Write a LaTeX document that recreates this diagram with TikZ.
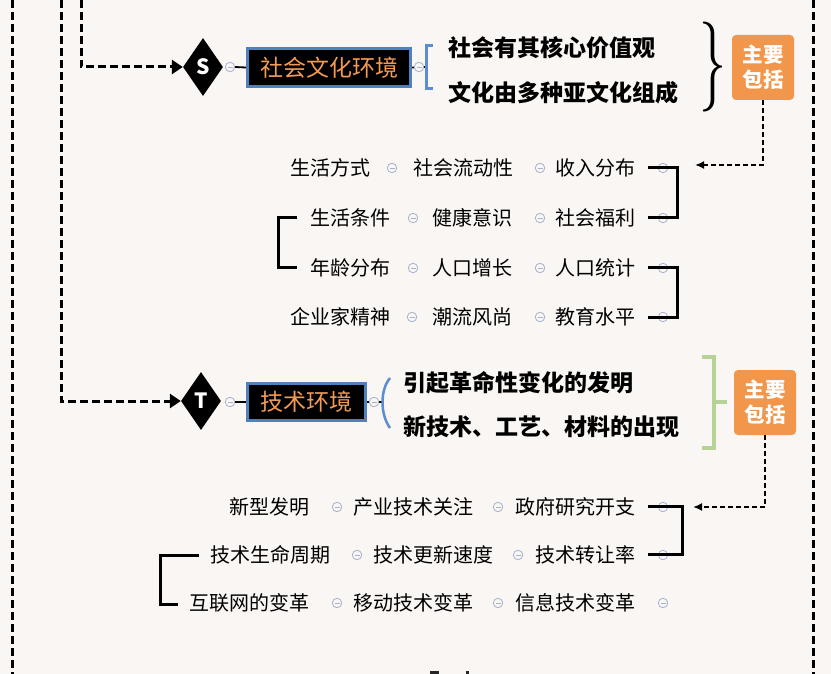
\documentclass[tikz,border=0pt]{standalone}
\usepackage{fontspec}
\setmainfont{Noto Sans CJK SC}
\usetikzlibrary{arrows.meta,shapes.geometric}
\definecolor{bg}{RGB}{250,246,243}
\definecolor{orng}{RGB}{241,150,74}
\definecolor{txtor}{RGB}{243,155,85}
\definecolor{bluebd}{RGB}{79,129,189}
\definecolor{brblue}{RGB}{91,142,208}
\definecolor{grn}{RGB}{183,210,150}
\definecolor{minc}{RGB}{165,178,208}
\begin{document}
\begin{tikzpicture}[x=1pt,y=-1pt,
  item/.style={font=\fontsize{20}{20}\selectfont, inner sep=0pt, text height=17.6pt, text depth=2.4pt, anchor=east, text=black},
  bolditem/.style={font=\fontsize{23}{23}\selectfont\bfseries, inner sep=0pt, text height=20.2pt, text depth=2.8pt, anchor=west, text=black},
  mi/.style={circle, draw=minc, fill=bg, line width=0.8pt, minimum size=9.5pt, inner sep=0pt,
    path picture={\draw[minc,line width=0.8pt] ([xshift=-2.5pt]path picture bounding box.center) -- ([xshift=2.5pt]path picture bounding box.center);}},
  dia/.style={diamond, fill=black, text=white, inner sep=0pt, aspect=0.69, minimum width=40pt, minimum height=58pt, font=\fontsize{21}{21}\selectfont\bfseries},
  envbox/.style={fill=black, draw=bluebd, line width=3pt, text=txtor, inner sep=0pt, text height=20.2pt, text depth=2.8pt, font=\fontsize{23}{23}\selectfont},
  incl/.style={fill=orng, rounded corners=4pt, text=white, align=center, inner sep=0pt, minimum width=62pt, minimum height=65pt, font=\fontsize{20.5}{25}\selectfont\bfseries},
  bigdash/.style={line width=3pt, dash pattern=on 8pt off 4pt},
  smalldash/.style={line width=1.8pt, dash pattern=on 5pt off 3pt},
  brk/.style={line width=3pt, line cap=butt},
  link/.style={line width=1.8pt}
]
\useasboundingbox (0,0) rectangle (831,674);
\fill[bg] (0,0) rectangle (831,674);

% ---- frame dashed lines
\coordinate (L0top) at (12,0);  \coordinate (L0bot) at (12,674);
\coordinate (R0top) at (813,0); \coordinate (R0bot) at (813,674);
\coordinate (LTtop) at (61,0);
\coordinate (LStop) at (81,0);
\draw[bigdash] (L0top) -- (L0bot);
\draw[bigdash] (R0top) -- (R0bot);

% ---- S section
\node[dia] (dS) at (203,67) {S};
\node[envbox, minimum width=163pt, minimum height=38pt] (bS) at (329,67.5) {社会文化环境};
\draw[bigdash, -{Triangle[length=11pt,width=14pt]}] (LStop) |- (dS.west);
\node[mi] (mS0) at (230,67) {};
\draw[link] (mS0.east) -- (bS.west);
\coordinate (brS) at (426,67);
\draw[link] (bS.east) -- (brS);
\node[mi] (mS1) at (419,67) {};
\draw[brblue, line width=3pt] (433,46) -- (426,46) -- (426,89) -- (433,89);
\node[bolditem] (tS1) at (448,47.5) {社会有其核心价值观};
\node[bolditem] (tS2) at (448,92.5) {文化由多种亚文化组成};
\node[inner sep=0pt] (braceS) at (713,67.5) {\resizebox*{27pt}{90pt}{$\}$}};
\node[incl] (oS) at (763,67.5) {主要\\包括};
\coordinate (arrS) at (695,165);
\draw[smalldash, -{Latex[length=9pt,width=8pt]}] (oS.south) |- (arrS);

% social grid
\node[item] (s11) at (371,168) {生活方式};
\node[mi] (ms11) at (392,168) {};
\node[item] (s12) at (514,168) {社会流动性};
\node[mi] (ms12) at (540,168) {};
\node[item] (s13) at (636,168) {收入分布};
\node[mi] (ms13) at (663,168) {};

\node[item] (s21) at (391,218) {生活条件};
\node[mi] (ms21) at (413,218) {};
\node[item] (s22) at (513,218) {健康意识};
\node[mi] (ms22) at (540,218) {};
\node[item] (s23) at (636,218) {社会福利};
\node[mi] (ms23) at (663,218) {};

\node[item] (s31) at (391,268) {年龄分布};
\node[mi] (ms31) at (413,268) {};
\node[item] (s32) at (513,268) {人口增长};
\node[mi] (ms32) at (540,268) {};
\node[item] (s33) at (636,268) {人口统计};
\node[mi] (ms33) at (663,268) {};

\node[item] (s41) at (391,317) {企业家精神};
\node[mi] (ms41) at (412,317) {};
\node[item] (s42) at (513,317) {潮流风尚};
\node[mi] (ms42) at (540,317) {};
\node[item] (s43) at (636,317) {教育水平};
\node[mi] (ms43) at (663,317) {};

\coordinate (a1) at (648,168); \coordinate (a2) at (648,218);
\draw[brk] (a1) -- (677,168) -- (677,218) -- (a2);
\coordinate (a3) at (648,268); \coordinate (a4) at (648,317);
\draw[brk] (a3) -- (677,268) -- (677,317) -- (a4);
\coordinate (a5) at (297,218); \coordinate (a6) at (297,268);
\draw[brk] (a5) -- (278,218) -- (278,268) -- (a6);

% ---- T section
\node[dia] (dT) at (201,401) {T};
\node[envbox, minimum width=118pt, minimum height=37pt] (bT) at (306.5,402) {技术环境};
\draw[bigdash, -{Triangle[length=11pt,width=14pt]}] (LTtop) |- (dT.west);
\node[mi] (mT0) at (230,402) {};
\draw[link] (mT0.east) -- (bT.west);
\coordinate (brT) at (382,402);
\draw[link] (bT.east) -- (brT);
\node[mi] (mT1) at (374,402) {};
\draw[brblue, line width=2.5pt] (390,378) .. controls (380,390) and (380,414) .. (390,428);
\node[bolditem] (tT1) at (403,383) {引起革命性变化的发明};
\node[bolditem] (tT2) at (403,427) {新技术、工艺、材料的出现};
\draw[grn, line width=4pt] (702,357) -- (714,357) -- (714,448) -- (702,448);
\draw[grn, line width=4pt] (714,402) -- (727,402);
\node[incl] (oT) at (765,402.5) {主要\\包括};
\coordinate (arrT) at (693,507);
\draw[smalldash, -{Latex[length=9pt,width=8pt]}] (oT.south) |- (arrT);

% tech grid
\node[item] (t11) at (310,507) {新型发明};
\node[mi] (mt11) at (337,507) {};
\node[item] (t12) at (474,507) {产业技术关注};
\node[mi] (mt12) at (498,507) {};
\node[item] (t13) at (636,507) {政府研究开支};
\node[mi] (mt13) at (663,507) {};

\node[item] (t21) at (331,555) {技术生命周期};
\node[mi] (mt21) at (357,555) {};
\node[item] (t22) at (494,555) {技术更新速度};
\node[mi] (mt22) at (518,555) {};
\node[item] (t23) at (636,555) {技术转让率};
\node[mi] (mt23) at (663,555) {};

\node[item] (t31) at (310,603) {互联网的变革};
\node[mi] (mt31) at (337,603) {};
\node[item] (t32) at (474,603) {移动技术变革};
\node[mi] (mt32) at (498,603) {};
\node[item] (t33) at (636,603) {信息技术变革};
\node[mi] (mt33) at (663,603) {};

\coordinate (b1) at (648,506); \coordinate (b2) at (648,554);
\draw[brk] (b1) -- (682,506) -- (682,554) -- (b2);
\coordinate (b3) at (199,555); \coordinate (b4) at (178,604);
\draw[brk] (b3) -- (160,555) -- (160,604) -- (b4);

% partial glyph tops at the bottom edge
\fill[black!85] (430,670.5) rectangle (439,674);
\fill[black!85] (466,670.5) rectangle (468.5,674);
\end{tikzpicture}
\end{document}
